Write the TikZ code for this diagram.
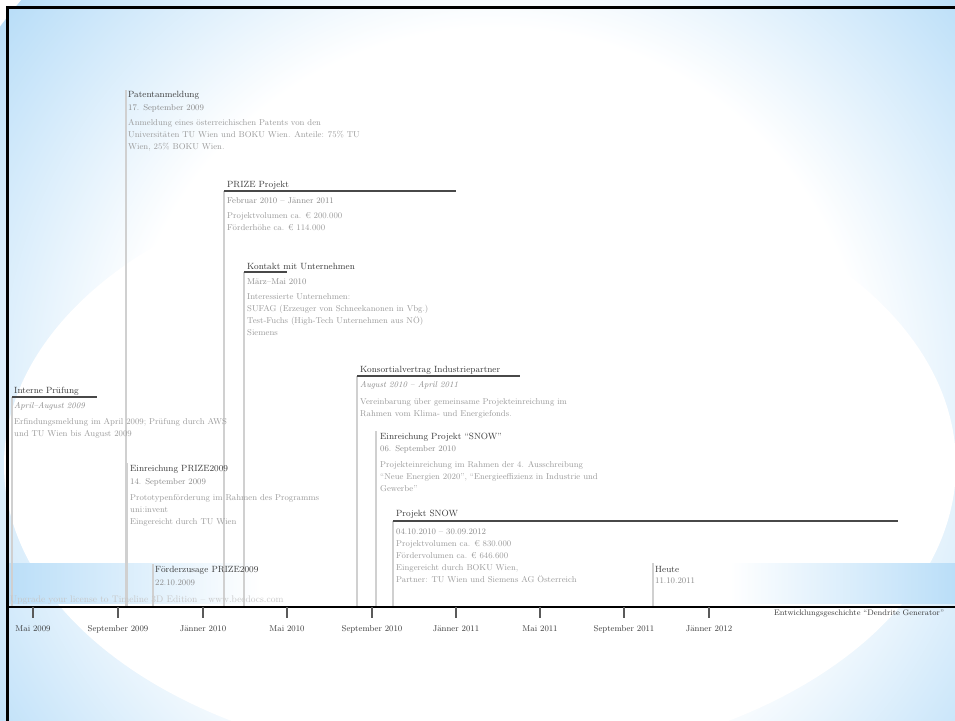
\documentclass[tikz,border=0pt]{standalone}
\usepackage{tikz}
\usetikzlibrary{positioning,calc}
\definecolor{bgblue}{RGB}{186,222,248}
\definecolor{ttlc}{HTML}{3A3A3A}
\definecolor{datc}{HTML}{8A8A8A}
\definecolor{txtc}{HTML}{9A9A9A}
\definecolor{stemc}{HTML}{D0D0D0}
\definecolor{spanc}{HTML}{484848}
\definecolor{tickc}{HTML}{5A5A5A}
\pgfdeclareradialshading{glow}{\pgfpoint{0bp}{0bp}}{color(0bp)=(white); color(15bp)=(white); color(25bp)=(bgblue); color(50bp)=(bgblue)}
\tikzset{
  ttl/.style={anchor=west, inner sep=0pt, text=ttlc, font=\fontsize{9}{10}\selectfont},
  dat/.style={anchor=west, inner sep=0pt, text=datc, font=\fontsize{8.5}{10}\selectfont},
  txt/.style={anchor=north west, inner sep=0pt, align=left, text=txtc, font=\fontsize{8.5}{12}\selectfont},
  stem/.style={stemc, line width=1.5pt},
  span/.style={spanc, line width=1.3pt},
  tickmark/.style={tickc, line width=2pt},
  axlabel/.style={anchor=north, inner sep=0pt, text=ttlc, font=\fontsize{8.5}{10}\selectfont},
}

\begin{document}
\begin{tikzpicture}[x=1pt, y=-1pt]
  \useasboundingbox (0,0) rectangle (955,720);
  \clip (0,0) rectangle (955,720);
  % background
  \fill[white] (0,0) rectangle (955,720);
  \fill[bgblue] (7,7) rectangle (955,720);
  \shade[shading=glow] (495,400) circle (620);
  \begin{scope}
    \clip (0,245) rectangle (955,720);
    \fill[white] (480,465) ellipse [x radius=476, y radius=300];
  \end{scope}
  \shade[left color=bgblue, right color=white] (7,563) rectangle (260,603);
  \shade[left color=white, right color=bgblue] (730,563) rectangle (955,603);
  \draw[black, line width=3pt] (7,730) -- (7,7) -- (965,7);

  % axis
  \coordinate (axL) at (7,607);
  \coordinate (axR) at (955,607);

  % stems
  \coordinate (intern) at (12,397);
  \coordinate (patent) at (126,90);
  \coordinate (prize) at (224,191);
  \coordinate (kontakt) at (244,272);
  \coordinate (konsort) at (357,376);
  \coordinate (einsnow) at (376,431);
  \coordinate (snow) at (393,521);
  \coordinate (heute) at (653,563);
  \coordinate (einprize) at (127,463);
  \coordinate (zusage) at (153,564);
  \foreach \e in {intern,patent,prize,kontakt,konsort,einsnow,snow,heute,einprize,zusage}
    \draw[stem] (\e) -- (\e |- axL);

  % durations
  \coordinate (intern-e) at (97,397);
  \coordinate (prize-e) at (456,191);
  \coordinate (kontakt-e) at (287,272);
  \coordinate (konsort-e) at (520,376);
  \coordinate (snow-e) at (898,521);
  \draw[span] (intern) -- (intern-e);
  \draw[span] (prize) -- (prize-e);
  \draw[span] (kontakt) -- (kontakt-e);
  \draw[span] (konsort) -- (konsort-e);
  \draw[span] (snow) -- (snow-e);

  \node[anchor=west, inner sep=0pt, text=black!22, font=\fontsize{9.5}{10}\selectfont] (wm) at (10,600)
    {Upgrade your license to Timeline 3D Edition -- www.beedocs.com};

  \draw[black, line width=2pt] (axL) -- (axR);
  \foreach \x/\lab [count=\i] in {33/Mai 2009, 118/September 2009, 203/Jänner 2010,
      287/Mai 2010, 372/September 2010, 456/Jänner 2011, 540/Mai 2011,
      624/September 2011, 709/Jänner 2012} {
    \draw[tickmark] (\x,607) -- (\x,618);
    \node[axlabel] (m\i) at (\x,625) {\lab};
  }
  \node[ttl, font=\fontsize{8}{9}\selectfont] (titel) at (774,613) {Entwicklungsgeschichte ``Dendrite Generator''};

  % Interne Pruefung
  \node[ttl] (intern-t) at (14,391) {Interne Prüfung};
  \node[dat, font=\fontsize{8.5}{10}\itshape] (intern-d) at (14,406) {April--August 2009};
  \node[txt] (intern-x) at (14,418) {Erfindungsmeldung im April 2009; Prüfung durch AWS\\und TU Wien bis August 2009};

  % Patentanmeldung
  \node[ttl] (patent-t) at (128,95) {Patentanmeldung};
  \node[dat] (patent-d) at (128,108) {17. September 2009};
  \node[txt] (patent-x) at (128,119) {Anmeldung eines österreichischen Patents von den\\Universitäten TU Wien und BOKU Wien. Anteile: 75\% TU\\Wien, 25\% BOKU Wien.};

  % PRIZE Projekt
  \node[ttl] (prize-t) at (227,185) {PRIZE Projekt};
  \node[dat] (prize-d) at (227,201) {Februar 2010 -- Jänner 2011};
  \node[txt] (prize-x) at (227,212) {Projektvolumen ca. € 200.000\\Förderhöhe ca. € 114.000};

  % Kontakt mit Unternehmen
  \node[ttl] (kontakt-t) at (247,266) {Kontakt mit Unternehmen};
  \node[dat] (kontakt-d) at (247,282) {März--Mai 2010};
  \node[txt] (kontakt-x) at (247,293) {Interessierte Unternehmen:\\SUFAG (Erzeuger von Schneekanonen in Vbg.)\\Test-Fuchs (High-Tech Unternehmen aus NÖ)\\Siemens};

  % Konsortialvertrag
  \node[ttl] (konsort-t) at (360,370) {Konsortialvertrag Industriepartner};
  \node[dat, font=\fontsize{8.5}{10}\itshape] (konsort-d) at (360,385) {August 2010 -- April 2011};
  \node[txt] (konsort-x) at (360,398) {Vereinbarung über gemeinsame Projekteinreichung im\\Rahmen vom Klima- und Energiefonds.};

  % Einreichung Projekt SNOW
  \node[ttl] (einsnow-t) at (380,437) {Einreichung Projekt ``SNOW''};
  \node[dat] (einsnow-d) at (380,449) {06. September 2010};
  \node[txt] (einsnow-x) at (380,461) {Projekteinreichung im Rahmen der 4. Ausschreibung\\``Neue Energien 2020'', ``Energieeffizienz in Industrie und\\Gewerbe''};

  % Einreichung PRIZE2009
  \node[ttl] (einprize-t) at (130,469) {Einreichung PRIZE2009};
  \node[dat] (einprize-d) at (130,482) {14. September 2009};
  \node[txt] (einprize-x) at (130,494) {Prototypenförderung im Rahmen des Programms\\uni:invent\\Eingereicht durch TU Wien};

  % Projekt SNOW
  \node[ttl] (snow-t) at (396,514) {Projekt SNOW};
  \node[dat] (snow-d) at (396,532) {04.10.2010 -- 30.09.2012};
  \node[txt] (snow-x) at (396,540) {Projektvolumen ca. € 830.000\\Fördervolumen ca. € 646.600\\Eingereicht durch BOKU Wien,\\Partner: TU Wien und Siemens AG Österreich};

  % Foerderzusage und Heute
  \node[ttl] (zusage-t) at (155,570) {Förderzusage PRIZE2009};
  \node[dat] (zusage-d) at (155,583) {22.10.2009};
  \node[ttl] (heute-t) at (655,569) {Heute};
  \node[dat] (heute-d) at (655,581) {11.10.2011};
\end{tikzpicture}
\end{document}
